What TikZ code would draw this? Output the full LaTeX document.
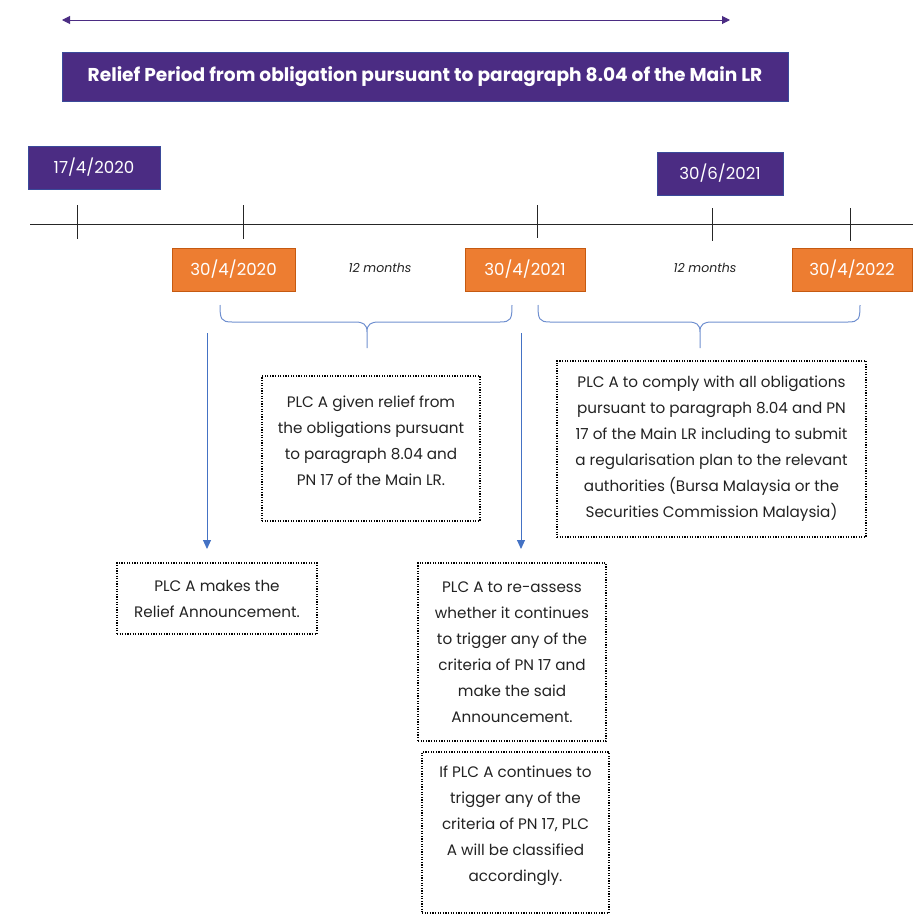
\documentclass[tikz,border=0pt]{standalone}
\usepackage{fontspec}
\setmainfont{Poppins}
\usetikzlibrary{arrows.meta}
\definecolor{plum}{HTML}{4B2C83}
\definecolor{plumedge}{HTML}{3A4A9A}
\definecolor{tang}{HTML}{ED7D31}
\definecolor{tangedge}{HTML}{C55A11}
\definecolor{arrblue}{HTML}{4472C4}
\definecolor{braceblue}{HTML}{7090D0}
\definecolor{txt}{HTML}{222222}
\begin{document}
\begin{tikzpicture}[x=1pt,y=-1pt,
  purplebox/.style={rectangle,fill=plum,draw=plumedge,line width=0.8pt,inner sep=0pt,text=white,font=\fontsize{16.6}{20}\selectfont},
  orangebox/.style={rectangle,fill=tang,draw=tangedge,line width=0.8pt,inner sep=0pt,text=white,font=\fontsize{16.6}{20}\selectfont,minimum height=43pt},
  dotbox/.style={rectangle,draw=black,line width=1.3pt,dash pattern=on 1.2pt off 1.4pt,inner sep=0pt,align=center,text=txt,font=\fontsize{15.2}{26}\selectfont},
  tick/.style={line width=0.8pt,draw=black!85},
  brace/.style={draw=braceblue,line width=1pt},
  blarrow/.style={draw=arrblue,line width=1pt,-{Triangle[length=9pt,width=8pt]}},
  months/.style={font=\itshape\fontsize{12.5}{14}\selectfont,text=txt}
]
\useasboundingbox (0,0) rectangle (913,921);

% top arrow
\coordinate (ta) at (62,20);
\coordinate (tb) at (730,20);
\draw[draw=plum,line width=1pt,{Triangle[length=8pt,width=8pt]}-{Triangle[length=8pt,width=8pt]}] (ta) -- (tb);

% title
\node[purplebox,minimum width=726pt,minimum height=49pt,font=\bfseries\fontsize{18.6}{20}\selectfont] (title) at (425,76.5) {Relief Period from obligation pursuant to paragraph 8.04 of the Main LR};

% date boxes
\node[purplebox,minimum width=132pt,minimum height=43pt] (d1) at (94,167.5) {17/4/2020};
\node[purplebox,minimum width=126pt,minimum height=43pt] (d5) at (720,173.5) {30/6/2021};
\node[orangebox,minimum width=123pt] (o1) at (233.5,269.5) {30/4/2020};
\node[orangebox,minimum width=120pt] (o2) at (525,269.5) {30/4/2021};
\node[orangebox,minimum width=120pt] (o3) at (852,269.5) {30/4/2022};

% timeline
\coordinate (tl1) at (30,224);
\coordinate (tl2) at (913,224);
\draw[tick] (tl1) -- (tl2);
\coordinate (k1a) at (77,205); \coordinate (k1b) at (77,239);
\coordinate (k2a) at (243,205); \coordinate (k2b) at (243,239);
\coordinate (k3a) at (537,205); \coordinate (k3b) at (537,238);
\coordinate (k4a) at (712,208); \coordinate (k4b) at (712,241);
\coordinate (k5a) at (850,208); \coordinate (k5b) at (850,241);
\draw[tick] (k1a) -- (k1b);
\draw[tick] (k2a) -- (k2b);
\draw[tick] (k3a) -- (k3b);
\draw[tick] (k4a) -- (k4b);
\draw[tick] (k5a) -- (k5b);

\node[months] (m12a) at (380,268) {12 months};
\node[months] (m12b) at (705,268) {12 months};

% braces
\draw[brace] (220,305) .. controls (220,319) and (221,322) .. (232,322)
  -- (355,322) .. controls (363,322) and (367,324) .. (367,332) -- (367,348)
  (367,332) .. controls (367,324) and (371,322) .. (379,322)
  -- (500,322) .. controls (511,322) and (512,319) .. (512,305);
\draw[brace] (538,305) .. controls (538,319) and (539,322) .. (550,322)
  -- (688,322) .. controls (696,322) and (700,324) .. (700,332) -- (700,348)
  (700,332) .. controls (700,324) and (704,322) .. (712,322)
  -- (848,322) .. controls (859,322) and (860,319) .. (860,305);

% arrows
\coordinate (a1s) at (207,333); \coordinate (a1e) at (207,549);
\coordinate (a2s) at (521,333); \coordinate (a2e) at (521,549);
\draw[blarrow] (a1s) -- (a1e);
\draw[blarrow] (a2s) -- (a2e);

% dotted boxes
\node[dotbox,minimum width=218pt,minimum height=145pt] (relief) at (371,448.5)
  {PLC A given relief from\\the obligations pursuant\\to paragraph 8.04 and\\PN 17 of the Main LR.\\[-10pt]};
\node[dotbox,minimum width=309pt,minimum height=176pt] (comply) at (711.5,449)
  {PLC A to comply with all obligations\\pursuant to paragraph 8.04 and PN\\17 of the Main LR including to submit\\a regularisation plan to the relevant\\authorities (Bursa Malaysia or the\\Securities Commission Malaysia)};
\node[dotbox,minimum width=200pt,minimum height=71pt] (makes) at (217,598.5)
  {PLC A makes the\\Relief Announcement.};
\node[dotbox,minimum width=188pt,minimum height=178pt] (reassess) at (512,652)
  {PLC A to re-assess\\whether it continues\\to trigger any of the\\criteria of PN 17 and\\make the said\\Announcement.};
\node[dotbox,minimum width=187pt,minimum height=161pt] (ifplc) at (515.5,832.5)
  {If PLC A continues to\\trigger any of the\\criteria of PN 17, PLC\\A will be classified\\accordingly.\\[-8pt]};
\end{tikzpicture}
\end{document}
